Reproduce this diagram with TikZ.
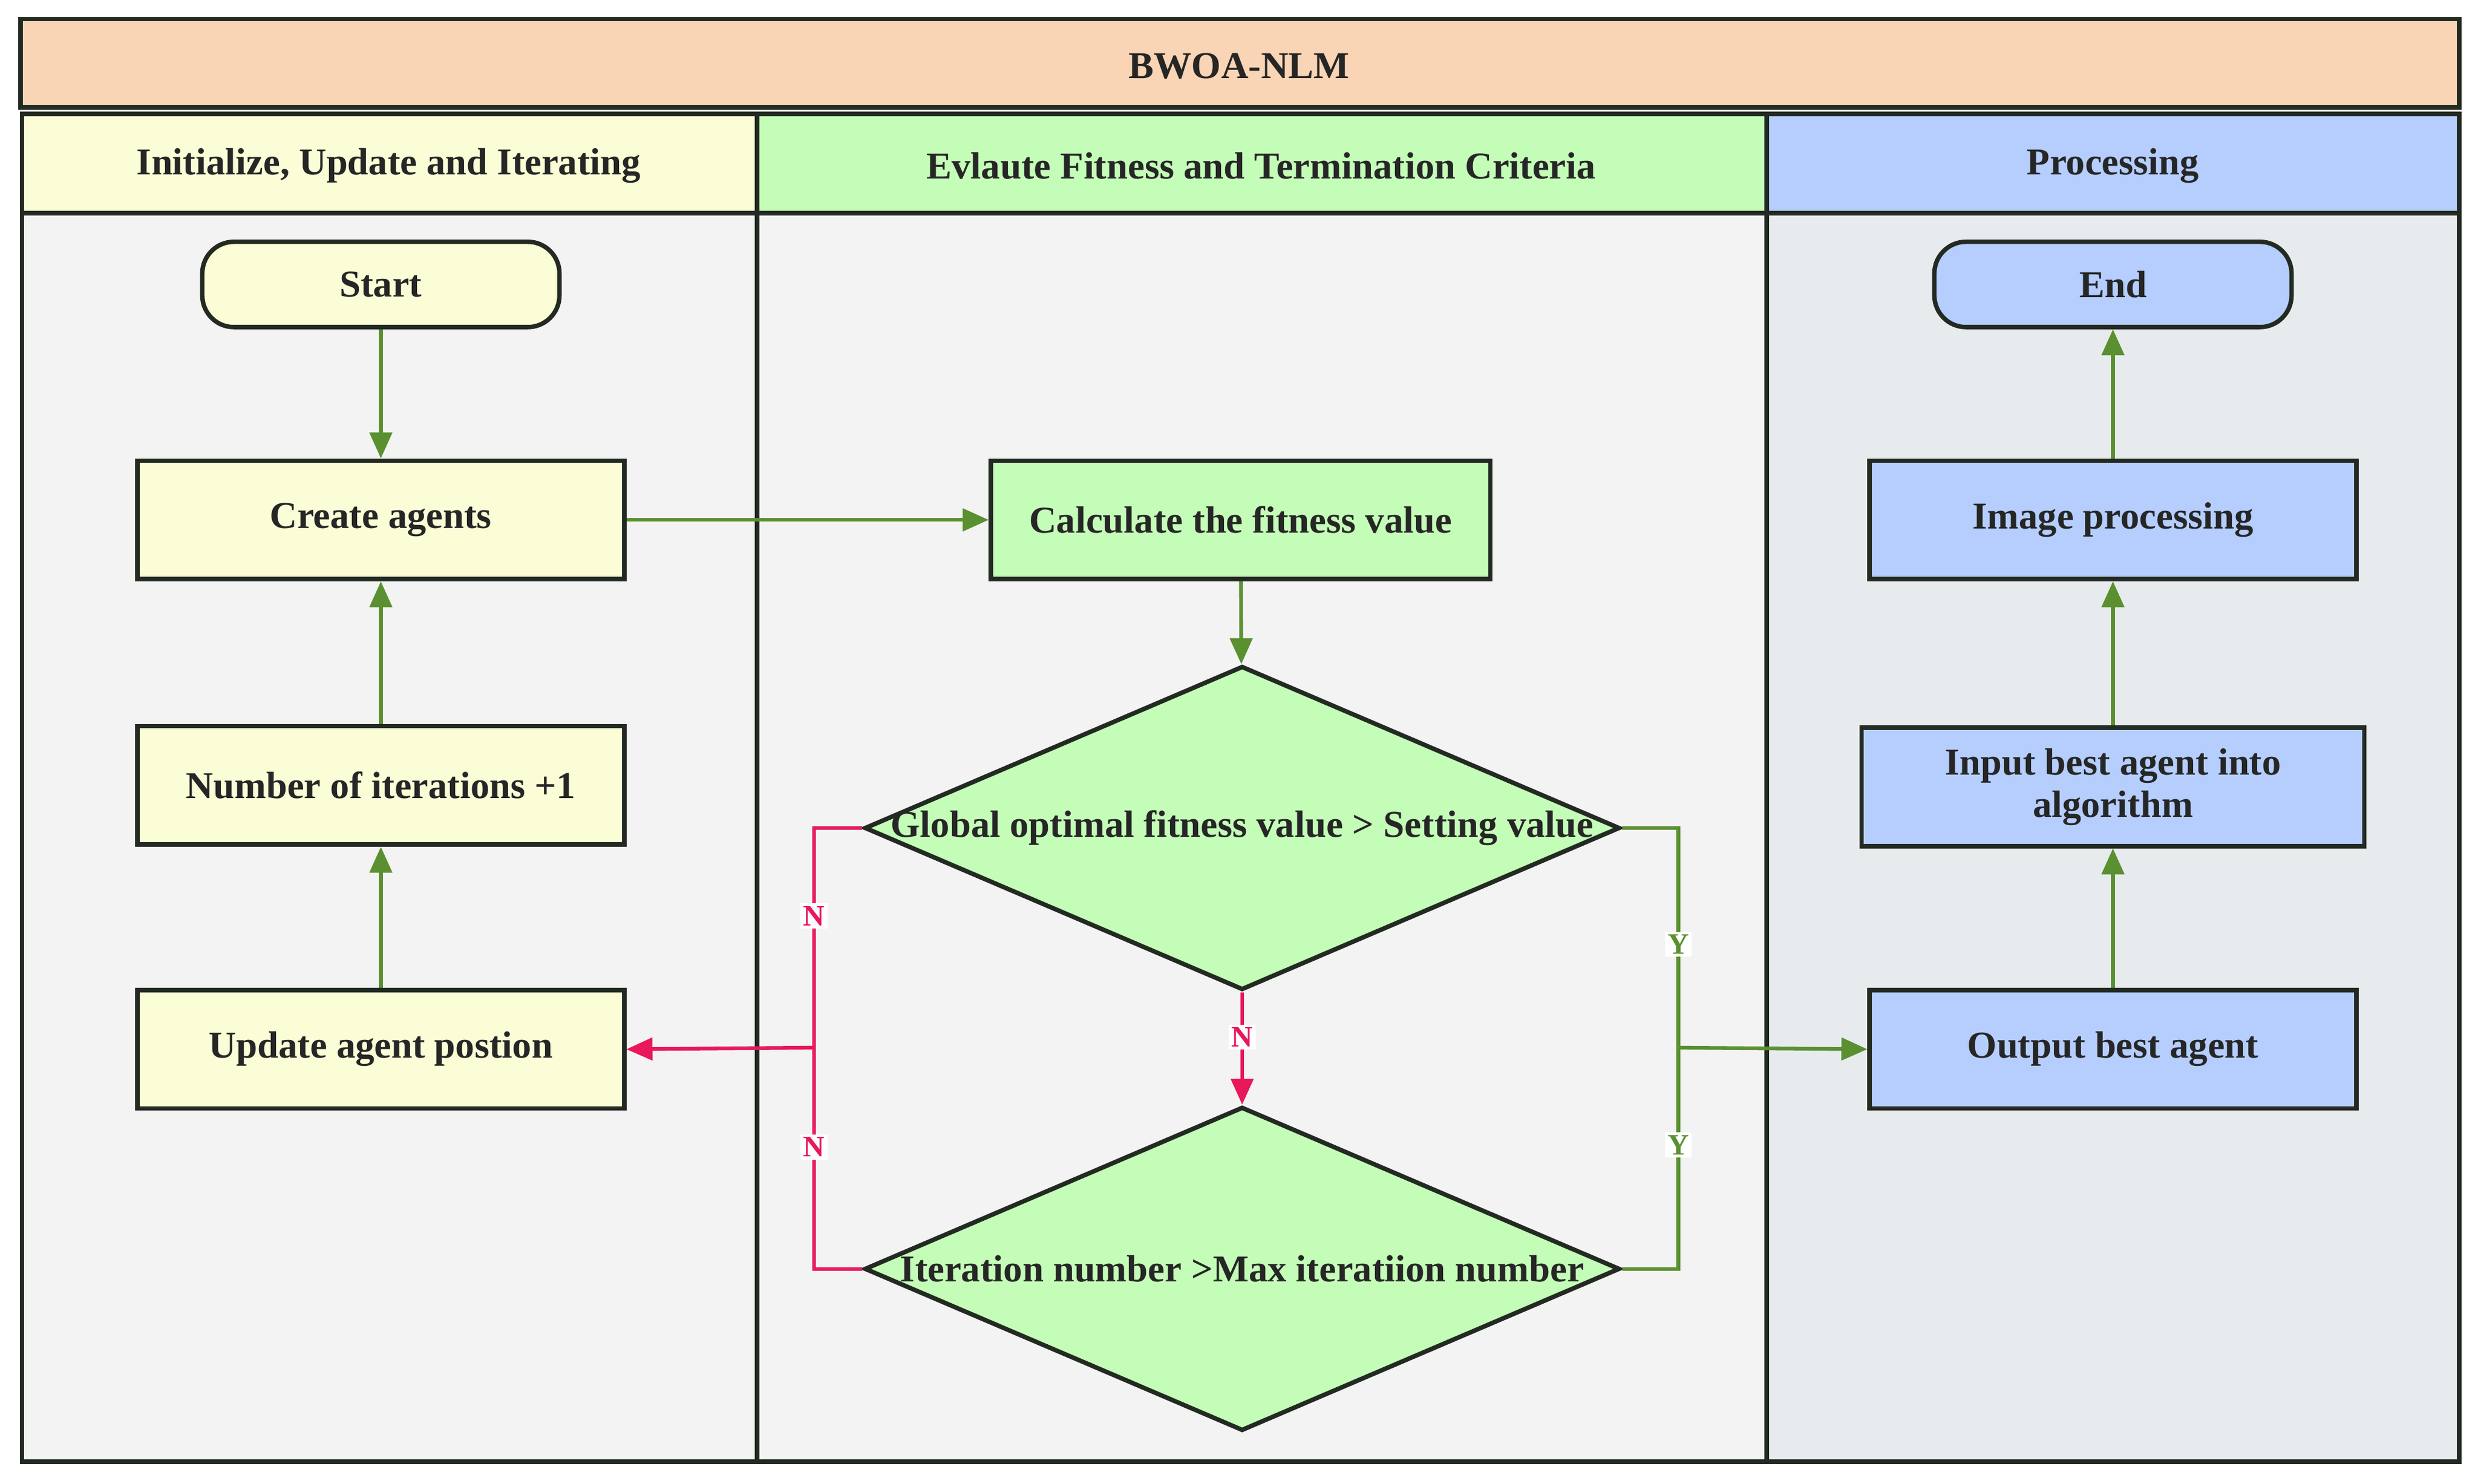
\documentclass[tikz,border=0pt]{standalone}
\usepackage{fontspec}
\setmainfont{Liberation Serif}
\usetikzlibrary{shapes.geometric,arrows.meta}
\definecolor{peach}{HTML}{F9D5B5}
\definecolor{ylw}{HTML}{FAFDD6}
\definecolor{grn}{HTML}{C4FDB8}
\definecolor{blu}{HTML}{B5CEFD}
\definecolor{bodyg}{HTML}{F3F3F3}
\definecolor{bodyb}{HTML}{E8EBEE}
\definecolor{edge}{HTML}{222A22}
\definecolor{ag}{HTML}{5A9030}
\definecolor{ar}{HTML}{E8185A}
\begin{document}
\begin{tikzpicture}[x=0.03cm,y=-0.03cm,
  txt/.style={font=\fontsize{20.5}{23}\selectfont\bfseries, text=black!85},
  box/.style={draw=edge,line width=2.4pt,txt},
  proc/.style={box,minimum width=308*0.03cm,minimum height=75*0.03cm,align=center},
  pill/.style={box,rounded corners=0.6cm,minimum width=226*0.03cm,minimum height=54*0.03cm},
  dia/.style={box,diamond,aspect=2.33,inner sep=0pt,minimum width=478*0.03cm,minimum height=205*0.03cm,fill=grn},
  ga/.style={draw=ag,line width=2pt,-{Triangle[length=14pt,width=12pt]}},
  gl/.style={draw=ag,line width=2pt},
  ra/.style={draw=ar,line width=2pt,-{Triangle[length=14pt,width=12pt]}},
  rl/.style={draw=ar,line width=2pt},
  lab/.style={fill=white,inner sep=1.5pt,font=\fontsize{16}{18}\selectfont\bfseries}]
\useasboundingbox (0,0) rectangle (1568,939);
\fill[white] (0,0) rectangle (1568,939);
% title
\draw[box,fill=peach] (13,12) rectangle (1556,68);
\node[txt] (title) at (784,42) {BWOA-NLM};
% lanes
\draw[box,fill=bodyg] (14,135) rectangle (479,925);
\draw[box,fill=bodyg] (479,135) rectangle (1118,925);
\draw[box,fill=bodyb] (1118,135) rectangle (1556,925);
\draw[box,fill=ylw] (14,72) rectangle (479,135);
\draw[box,fill=grn] (479,72) rectangle (1118,135);
\draw[box,fill=blu] (1118,72) rectangle (1556,135);
\node[txt] (h1) at (246,105) {Initialize, Update and Iterating};
\node[txt] (h2) at (798,105) {Evlaute Fitness and Termination Criteria};
\node[txt] (h3) at (1337,105) {Processing};
% nodes
\node[pill,fill=ylw] (start) at (241,180) {Start};
\node[proc,fill=ylw] (create) at (241,329) {Create agents};
\node[proc,fill=ylw] (num) at (241,497) {Number of iterations +1};
\node[proc,fill=ylw] (upd) at (241,664) {Update agent postion};
\node[proc,fill=grn,minimum width=316*0.03cm] (calc) at (785,329) {Calculate the fitness value};
\node[dia] (d1) at (786,524) {};
\node[txt] (t1) at (786,524) {Global optimal fitness value > Setting value};
\node[dia] (d2) at (786,803) {};
\node[txt] (t2) at (786,803) {Iteration number >Max iteratiion number};
\node[pill,fill=blu] (end) at (1337,180) {End};
\node[proc,fill=blu] (img) at (1337,329) {Image processing};
\node[proc,fill=blu,minimum width=318*0.03cm] (inp) at (1337,498) {Input best agent into\\algorithm};
\node[proc,fill=blu] (out) at (1337,664) {Output best agent};
\coordinate (jl) at (515,663);
\coordinate (jr) at (1062,663);
% edges
\draw[ga] (start) -- (create);
\draw[ga] (create) -- (calc);
\draw[ga] (calc) -- (d1);
\draw[ga] (upd) -- (num);
\draw[ga] (num) -- (create);
\draw[ga] (out) -- (inp);
\draw[ga] (inp) -- (img);
\draw[ga] (img) -- (end);
\draw[rl] (d1.west) -- (515,524) -- node[lab,text=ar,pos=0.4]{N} (jl);
\draw[rl] (d2.west) -- (515,803) -- node[lab,text=ar,pos=0.55]{N} (jl);
\draw[ra] (jl) -- (upd.east);
\draw[ra] (d1.south) -- node[lab,text=ar,pos=0.4]{N} (d2.north);
\draw[gl] (d1.east) -- (1062,524) -- node[lab,text=ag,pos=0.53]{Y} (jr);
\draw[gl] (d2.east) -- (1062,803) -- node[lab,text=ag,pos=0.56]{Y} (jr);
\draw[ga] (jr) -- (out.west);
\end{tikzpicture}
\end{document}
